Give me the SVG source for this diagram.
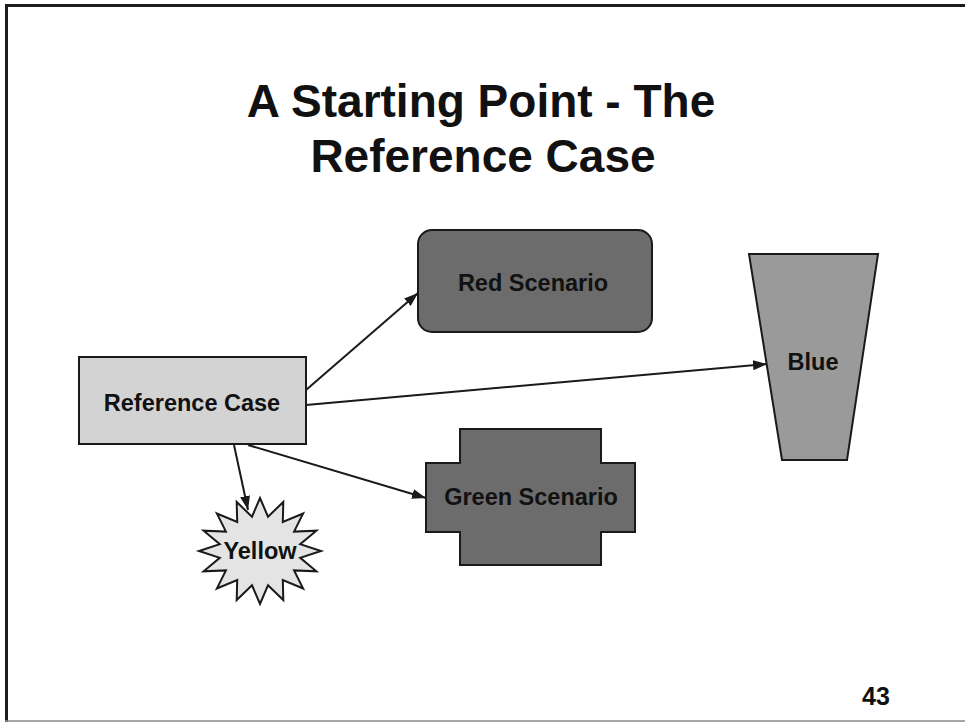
<svg xmlns="http://www.w3.org/2000/svg" width="965" height="723" viewBox="0 0 965 723">
  <defs>
    <marker id="arrow" viewBox="0 0 14 10" refX="14" refY="5" markerWidth="14" markerHeight="10" markerUnits="userSpaceOnUse" orient="auto">
      <path d="M0,0 L14,5 L0,10 z" fill="#1a1a1a"/>
    </marker>
    <style>
      .title { font-family: "Liberation Sans", Arial, sans-serif; font-weight: bold; font-size: 46px; fill: #111; text-anchor: middle; }
      .label { font-family: "Liberation Sans", Arial, sans-serif; font-weight: bold; font-size: 23.5px; fill: #111; text-anchor: middle; }
      .shape { stroke: #1a1a1a; stroke-width: 2; }
      .edge { fill: none; stroke: #1a1a1a; stroke-width: 2; marker-end: url(#arrow); }
      .pageno { font-family: "Liberation Sans", Arial, sans-serif; font-weight: bold; font-size: 25px; fill: #111; }
    </style>
  </defs>

  <rect x="0" y="0" width="965" height="723" fill="#ffffff"/>

  <!-- slide frame -->
  <line x1="5" y1="5.5" x2="965" y2="5.5" stroke="#1c1c1c" stroke-width="3"/>
  <line x1="6.5" y1="5" x2="6.5" y2="722" stroke="#1c1c1c" stroke-width="3"/>
  <line x1="5" y1="721" x2="965" y2="721" stroke="#8a8a8a" stroke-width="1.5"/>

  <!-- title -->
  <g id="title">
    <text class="title" x="481" y="117">A Starting Point - The</text>
    <text class="title" x="483" y="172">Reference Case</text>
  </g>

  <!-- connectors -->
  <g id="connectors">
    <line class="edge" x1="306" y1="390" x2="418" y2="293"/>
    <line class="edge" x1="306" y1="405" x2="767" y2="364"/>
    <line class="edge" x1="248" y1="445" x2="426" y2="498"/>
    <line class="edge" x1="234" y1="445" x2="248" y2="510"/>
  </g>

  <g id="reference-case">
    <rect class="shape" x="79" y="357" width="227" height="87" fill="#d3d3d3"/>
    <text class="label" x="192" y="411">Reference Case</text>
  </g>

  <g id="red-scenario">
    <rect class="shape" x="418" y="230" width="234" height="102" rx="14" ry="14" fill="#6c6c6c"/>
    <text class="label" x="533" y="291">Red Scenario</text>
  </g>

  <g id="blue">
    <polygon class="shape" points="749,254 878,254 847,460 782,460" fill="#9a9a9a"/>
    <text class="label" x="813" y="370">Blue</text>
  </g>

  <g id="green-scenario">
    <polygon class="shape" points="460,429 601,429 601,463 635,463 635,532 601,532 601,565 460,565 460,532 426,532 426,463 460,463" fill="#6c6c6c"/>
    <text class="label" x="531" y="505">Green Scenario</text>
  </g>

  <g id="yellow">
    <!-- 16-point star centred at (260,551): outer radii 61x53, inner radii 41x35 -->
    <polygon class="shape" fill="#e4e4e4" points="260,498 268,516.7 283.3,502 282.8,521.9 303.1,513.5 294.1,531.6 316.4,530.7 300.2,544.2 321,551 300.2,557.8 316.4,571.3 294.1,570.4 303.1,588.5 282.8,580.1 283.3,600 268,585.3 260,604 252,585.3 236.7,600 237.2,580.1 216.9,588.5 225.9,570.4 203.6,571.3 219.8,557.8 199,551 219.8,544.2 203.6,530.7 225.9,531.6 216.9,513.5 237.2,521.9 236.7,502 252,516.7"/>
    <text class="label" x="260" y="559">Yellow</text>
  </g>

  <text class="pageno" x="862" y="705">43</text>
</svg>
